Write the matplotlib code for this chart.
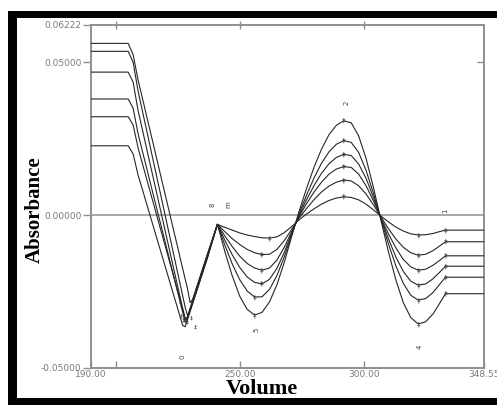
import numpy as np
import matplotlib
matplotlib.use('Agg')
import matplotlib.pyplot as plt
from matplotlib.patches import Rectangle

#Volumen (eje x) comun a todas las curvas
vol = [190, 205, 207, 209, 211, 213, 215, 217, 219, 221, 223, 225, 226, 227, 228, 229, 230, 231, 233, 235, 237, 239, 241,
       244, 247, 250, 253, 256, 259, 262, 265, 268, 271,
       274, 277, 280, 283, 286, 289, 292, 295, 298, 301, 304,
       307, 310, 313, 316, 319, 322, 325, 328, 331, 333, 348.55]

#Absorbancia de cada curva
abs_1 = [0.0562, 0.0562, 0.0525, 0.0442, 0.0374, 0.0305, 0.0237, 0.0168, 0.0099, 0.0031, -0.0038, -0.0106, -0.0141,
         -0.0175, -0.0209, -0.0243, -0.0286, -0.0276, -0.0226, -0.0176, -0.0126, -0.0078, -0.0030,
         -0.0119, -0.0199, -0.0265, -0.0308, -0.0327, -0.0318, -0.0284, -0.0228, -0.0154, -0.0069,
         0.0014, 0.0088, 0.0157, 0.0216, 0.0263, 0.0294, 0.0309, 0.0302, 0.0259, 0.0185, 0.0089,
         -0.0017, -0.0120, -0.0212, -0.0286, -0.0335, -0.0356, -0.0349, -0.0323, -0.0284, -0.0257, -0.0257]
abs_2 = [0.0536, 0.0536, 0.0500, 0.0406, 0.0331, 0.0257, 0.0182, 0.0108, 0.0034, -0.0041, -0.0115, -0.0190, -0.0227,
         -0.0264, -0.0302, -0.0330, -0.0304, -0.0279, -0.0229, -0.0179, -0.0129, -0.0080, -0.0030,
         -0.0098, -0.0160, -0.0211, -0.0248, -0.0268, -0.0267, -0.0243, -0.0198, -0.0136, -0.0063,
         0.0006, 0.0066, 0.0122, 0.0170, 0.0207, 0.0232, 0.0244, 0.0238, 0.0205, 0.0146, 0.0070,
         -0.0014, -0.0094, -0.0166, -0.0223, -0.0262, -0.0278, -0.0273, -0.0253, -0.0223, -0.0203, -0.0203]
abs_3 = [0.0468, 0.0468, 0.0435, 0.0342, 0.0270, 0.0198, 0.0126, 0.0054, -0.0018, -0.0090, -0.0162, -0.0234, -0.0270,
         -0.0306, -0.0342, -0.0332, -0.0307, -0.0282, -0.0232, -0.0182, -0.0132, -0.0081, -0.0030,
         -0.0082, -0.0130, -0.0171, -0.0202, -0.0220, -0.0225, -0.0210, -0.0174, -0.0122, -0.0058,
         0.0001, 0.0051, 0.0097, 0.0137, 0.0168, 0.0189, 0.0199, 0.0195, 0.0167, 0.0120, 0.0057,
         -0.0011, -0.0077, -0.0137, -0.0184, -0.0216, -0.0229, -0.0225, -0.0208, -0.0184, -0.0167, -0.0167]
abs_4 = [0.0380, 0.0380, 0.0350, 0.0266, 0.0201, 0.0136, 0.0071, 0.0006, -0.0058, -0.0123, -0.0188, -0.0253, -0.0286,
         -0.0318, -0.0351, -0.0335, -0.0310, -0.0285, -0.0235, -0.0185, -0.0135, -0.0083, -0.0030,
         -0.0068, -0.0103, -0.0134, -0.0158, -0.0173, -0.0180, -0.0173, -0.0147, -0.0105, -0.0053,
         -0.0004, 0.0038, 0.0076, 0.0108, 0.0134, 0.0151, 0.0159, 0.0156, 0.0134, 0.0096, 0.0046,
         -0.0009, -0.0061, -0.0107, -0.0145, -0.0169, -0.0180, -0.0177, -0.0164, -0.0146, -0.0133, -0.0133]
abs_5 = [0.0322, 0.0322, 0.0295, 0.0220, 0.0161, 0.0102, 0.0044, -0.0015, -0.0073, -0.0132, -0.0190, -0.0249, -0.0278,
         -0.0307, -0.0337, -0.0337, -0.0312, -0.0287, -0.0237, -0.0187, -0.0137, -0.0084, -0.0030,
         -0.0054, -0.0077, -0.0096, -0.0112, -0.0123, -0.0129, -0.0128, -0.0112, -0.0083, -0.0046,
         -0.0009, 0.0022, 0.0051, 0.0076, 0.0095, 0.0108, 0.0115, 0.0112, 0.0096, 0.0069, 0.0033,
         -0.0006, -0.0044, -0.0078, -0.0105, -0.0123, -0.0131, -0.0128, -0.0116, -0.0099, -0.0087, -0.0087]
abs_6 = [0.0227, 0.0227, 0.0200, 0.0131, 0.0077, 0.0022, -0.0033, -0.0088, -0.0142, -0.0197, -0.0252, -0.0306, -0.0334,
         -0.0361, -0.0365, -0.0340, -0.0315, -0.0290, -0.0240, -0.0190, -0.0140, -0.0085, -0.0030,
         -0.0040, -0.0049, -0.0058, -0.0065, -0.0070, -0.0074, -0.0075, -0.0071, -0.0057, -0.0037,
         -0.0015, 0.0004, 0.0021, 0.0036, 0.0048, 0.0056, 0.0060, 0.0058, 0.0050, 0.0036, 0.0017,
         -0.0003, -0.0022, -0.0039, -0.0052, -0.0061, -0.0065, -0.0064, -0.0060, -0.0053, -0.0049, -0.0049]
curvas = [abs_1, abs_2, abs_3, abs_4, abs_5, abs_6]

#Etiquetas de los ejes
xticks = [190, 250, 300, 348.55]
xlabels = ['190.00', '250.00', '300.00', '348.55']
yticks = [-0.05, 0.0, 0.05, 0.06222]
ylabels = ['-0.05000', '0.00000', '0.05000', '0.06222']

#Numeros de pico
picos = ['0', '8', 'm', '5', '2', '4', '1']
picos_x = [227.1, 239.2, 245.3, 256.6, 292.9, 322.7, 332.8]
picos_y = [-0.0464, 0.0033, 0.0033, -0.0376, 0.0366, -0.0431, 0.0016]

gris = '#8f8f8f'
fig = plt.figure(figsize=(4.97, 4.05), dpi=100)
ax = fig.add_axes([0.1831, 0.0914, 0.7907, 0.8469])

x = np.array(vol)
for k, c in enumerate(curvas):
    c = np.array(c)
    ax.plot(x, c, color='#262626', lw=0.8, zorder=3)
    #marcas en maximos y minimos de cada curva
    for lo, hi, f, dx in [(220, 236, np.argmin, (k - 2.5) * 1.6), (250, 268, np.argmin, 0),
                          (285, 300, np.argmax, 0), (315, 328, np.argmin, 0), (332, 334, np.argmin, 0)]:
        idx = np.where((x >= lo) & (x <= hi))[0]
        i = idx[f(c[idx])]
        ax.text(x[i] + dx, c[i], '\u2021', fontsize=4.5 if dx else 5, ha='center', va='center',
                color='#333333', zorder=4)

for t, px, py in zip(picos, picos_x, picos_y):
    ax.text(px, py, t, fontsize=5, rotation=90, ha='center', va='center', color='#444444')

ax.axhline(0, color=gris, lw=1.1, zorder=2)
ax.set_xlim(190, 348.55)
ax.set_ylim(-0.05, 0.06222)

ax.set_xticks(xticks, xlabels)
ax.set_xticks([200], minor=True)
ax.set_yticks(yticks, ylabels)
ax.tick_params(axis='x', which='both', direction='in', length=5, width=1, color=gris,
               labelsize=6.5, labelcolor='#7a7a7a', pad=1.2)
ax.tick_params(axis='y', direction='out', length=6, width=1, color=gris,
               labelsize=6.5, labelcolor='#7a7a7a', pad=1)
for s in ax.spines.values():
    s.set_color(gris)
    s.set_linewidth(1.4)

top = ax.secondary_xaxis('top')
top.set_xticks([200, 250, 300])
top.tick_params(direction='inout', length=6, width=1, color=gris, labeltop=False)
top.spines['top'].set_visible(False)
der = ax.secondary_yaxis('right')
der.set_yticks([0.05])
der.tick_params(direction='in', length=5, width=1, color=gris, labelright=False)
der.spines['right'].set_visible(False)

fig.text(262 / 497, 1 - 394 / 405, 'Volume', ha='center', va='baseline', fontsize=16,
         fontweight='bold', family='Liberation Serif')
fig.text(35 / 497, 1 - 210 / 405, 'Absorbance', ha='center', va='center', fontsize=15,
         fontweight='bold', family='Liberation Serif', rotation=90)

#Marco negro
for r in [(8 / 497, 1 - 18.3 / 405, 1, 7.3 / 405),
          (8 / 497, 0, 8.7 / 497, 1 - 11 / 405),
          (8 / 497, 0, 1, 7.3 / 405)]:
    fig.add_artist(Rectangle((r[0], r[1]), r[2], r[3], transform=fig.transFigure,
                             facecolor='black', edgecolor='none'))

plt.savefig('out.png', dpi=100)
